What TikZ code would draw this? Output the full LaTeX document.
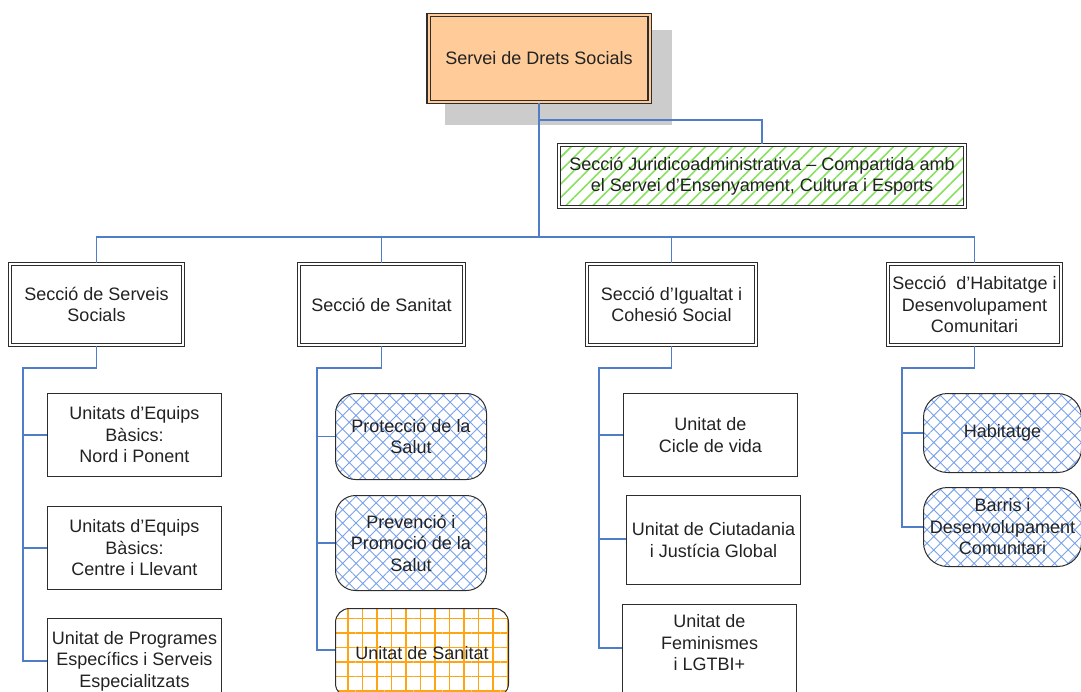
\documentclass[tikz,border=0pt]{standalone}
\usepackage{fontspec}
\setmainfont{Liberation Sans}
\usetikzlibrary{patterns.meta}
\definecolor{peach}{RGB}{255,204,153}
\definecolor{txtc}{RGB}{34,34,34}
\definecolor{linec}{RGB}{45,45,45}
\definecolor{connc}{RGB}{80,125,200}
\definecolor{shadowc}{RGB}{204,204,204}
\definecolor{hatchblue}{RGB}{120,160,235}
\definecolor{stripegreen}{RGB}{135,225,95}
\definecolor{gridorange}{RGB}{255,165,20}
\tikzset{
  lbl/.style={font=\fontsize{18}{21.5}\selectfont, text=txtc, align=center, inner sep=0pt},
  dbox/.style={lbl, draw=linec, line width=1.3pt, double=white, double distance=2pt},
  sbox/.style={lbl, draw=linec, line width=1pt},
  rbox/.style={sbox, rounded corners=20pt, pattern={Hatch[angle=45,distance=9.5pt,line width=0.9pt]}, pattern color=hatchblue},
  conn/.style={draw=connc, line width=1.2pt},
}
\begin{document}
\begin{tikzpicture}[x=1pt,y=-1pt]
\useasboundingbox (0,0) rectangle (1081,691);
% shadow
\fill[shadowc] (445,30) rectangle (672,125);
% top
\node[dbox, fill=peach, double=peach, minimum width=221pt, minimum height=87pt] (top) at (539,58.5) {Servei de Drets Socials};
% juridic
\node[dbox, pattern={Lines[angle=45,distance=9.5pt,line width=1.6pt]}, pattern color=stripegreen, minimum width=406pt, minimum height=62pt] (jur) at (762,176) {Secció Juridicoadministrativa – Compartida amb\\el Servei d’Ensenyament, Cultura i Esports};
% sections
\node[dbox, minimum width=173pt, minimum height=81pt] (ss) at (96.5,304.5) {Secció de Serveis\\Socials};
\node[dbox, minimum width=165pt, minimum height=81pt] (san) at (381.5,304.5) {Secció de Sanitat};
\node[dbox, minimum width=169pt, minimum height=81pt] (ig) at (671.5,304.5) {Secció d’Igualtat i\\Cohesió Social};
\node[dbox, minimum width=173pt, minimum height=81pt] (hab) at (974.5,304.5) {Secció~~d'Habitatge i\\Desenvolupament\\Comunitari};
% serveis socials children
\node[sbox, minimum width=174pt, minimum height=83pt] (ss1) at (134.5,435) {Unitats d’Equips\\Bàsics:\\Nord i Ponent};
\node[sbox, minimum width=174pt, minimum height=83pt] (ss2) at (134.5,548) {Unitats d’Equips\\Bàsics:\\Centre i Llevant};
\node[sbox, minimum width=174pt, minimum height=85pt] (ss3) at (134.5,661) {Unitat de Programes\\Específics i Serveis\\Especialitzats};
% sanitat children
\node[rbox, minimum width=151pt, minimum height=86pt] (san1) at (411,436.5) {Protecció de la\\Salut};
\node[rbox, minimum width=151pt, minimum height=95pt] (san2) at (411,543) {Prevenció i\\Promoció de la\\Salut};
\node[sbox, rounded corners=14pt, pattern={Hatch[angle=0,distance=14.5pt,line width=1.5pt]}, pattern color=gridorange, minimum width=173pt, minimum height=89pt] (san3) at (422,653) {Unitat de Sanitat};
% igualtat children
\node[sbox, minimum width=174pt, minimum height=83pt] (ig1) at (710.5,435) {Unitat de\\Cicle de vida};
\node[sbox, minimum width=174pt, minimum height=89pt] (ig2) at (713.5,540) {Unitat de Ciutadania\\i Justícia Global};
\node[sbox, minimum width=174pt, minimum height=100pt] (ig3) at (709.5,654) {};
\node[lbl] (ig3t) at (709.5,643) {Unitat de\\Feminismes\\i LGTBI+};
% habitatge children
\node[rbox, rounded corners=24pt, minimum width=158pt, minimum height=79pt] (hab1) at (1002.5,433) {Habitatge};
\node[rbox, rounded corners=24pt, minimum width=158pt, minimum height=79pt] (hab2) at (1002.5,527) {Barris i\\Desenvolupament\\Comunitari};
% connectors
\coordinate (jb) at (539,120);
\coordinate (bus) at (539,237);
\draw[conn] (top.south) -- (bus);
\draw[conn] (jb) -| (jur.north);
\draw[conn] (ss.north) |- (bus);
\draw[conn] (san.north) |- (bus);
\draw[conn] (ig.north) |- (bus);
\draw[conn] (hab.north) |- (bus);
% section -> children
\coordinate (ssv) at (23,368);
\draw[conn] (ss.south) |- (ssv) |- (ss3.west);
\draw[conn] (ssv) |- (ss1.west);
\draw[conn] (ssv) |- (ss2.west);
\coordinate (sanv) at (317,368);
\draw[conn] (san.south) |- (sanv) |- ([yshift=3pt]san3.west);
\draw[conn] (sanv) |- (san1.west);
\draw[conn] (sanv) |- (san2.west);
\coordinate (igv) at (599,368);
\draw[conn] (ig.south) |- (igv) |- ([yshift=6pt]ig3.west);
\draw[conn] (igv) |- (ig1.west);
\draw[conn] (igv) |- ([yshift=1pt]ig2.west);
\coordinate (habv) at (902,368);
\draw[conn] (hab.south) |- (habv) |- (hab2.west);
\draw[conn] (habv) |- (hab1.west);
\end{tikzpicture}
\end{document}
